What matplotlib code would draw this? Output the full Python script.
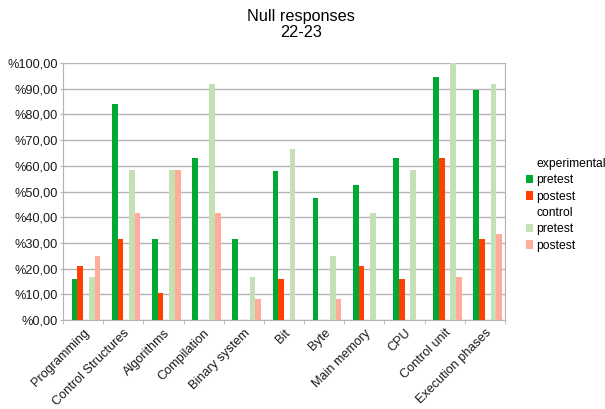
import matplotlib
matplotlib.use('Agg')
import matplotlib.pyplot as plt
import matplotlib.transforms as mtransforms
import numpy as np
from matplotlib.patches import Patch

plt.rcParams['font.family'] = ['Liberation Sans', 'DejaVu Sans']

topics = ['Programming', 'Control Structures', 'Algorithms', 'Compilation',
          'Binary system', 'Bit', 'Byte', 'Main memory', 'CPU',
          'Control unit', 'Execution phases']

# percentage of null responses per topic
exp_pretest = [15.79, 84.21, 31.58, 63.16, 31.58, 57.89, 47.37, 52.63, 63.16, 94.74, 89.47]
exp_postest = [21.05, 31.58, 10.53, 0, 0, 15.79, 0, 21.05, 15.79, 63.16, 31.58]
ctl_pretest = [16.67, 58.33, 58.33, 91.67, 16.67, 66.67, 25.00, 41.67, 58.33, 100.00, 91.67]
ctl_postest = [25.00, 41.67, 58.33, 41.67, 8.33, 0, 8.33, 0, 0, 16.67, 33.33]

c_exp_pre = '#00a933'
c_exp_post = '#ff4000'
c_ctl_pre = '#c5e0b4'
c_ctl_post = '#ffad9a'

fig = plt.figure(figsize=(6.05, 4.09), dpi=100)
ax = fig.add_axes([63/605, 89/409, 442/605, 257/409])

x = np.arange(len(topics))
w = 1.0 / 7
# six slots per group: "experimental" and "control" header series are empty
ax.bar(x - 1.5*w, exp_pretest, w, color=c_exp_pre, zorder=3)
ax.bar(x - 0.5*w, exp_postest, w, color=c_exp_post, zorder=3)
ax.bar(x + 1.5*w, ctl_pretest, w, color=c_ctl_pre, zorder=3)
ax.bar(x + 2.5*w, ctl_postest, w, color=c_ctl_post, zorder=3)

ax.set_xlim(-0.5, len(topics) - 0.5)
ax.set_ylim(0, 100)
yt = np.arange(0, 101, 10)
ax.set_yticks(yt)
ax.set_yticklabels(['%{:d},00'.format(v) for v in yt], fontsize=9.2, color='#1a1a1a')
ax.set_xticks(x)
ax.set_xticklabels(topics, rotation=45, ha='right', va='top',
                   rotation_mode='anchor', fontsize=9.1, color='#1a1a1a')
shift = mtransforms.ScaledTranslation(-5/100, 0, fig.dpi_scale_trans)
for lbl in ax.get_xticklabels():
    lbl.set_transform(lbl.get_transform() + shift)
ax.set_xticks(np.arange(len(topics) + 1) - 0.5, minor=True)
ax.tick_params(axis='x', which='major', length=0, pad=5)
ax.tick_params(axis='x', which='minor', length=3, color='#b3b3b3')
ax.tick_params(axis='y', length=2, color='#b3b3b3', pad=1.5)

ax.grid(axis='y', color='#b3b3b3', linewidth=1, zorder=0)
ax.spines['top'].set_visible(False)
for side in ['left', 'right', 'bottom']:
    ax.spines[side].set_color('#b3b3b3')

fig.text(0.497, 0.977, 'Null responses\n22-23', ha='center', va='top',
         fontsize=11.7, linespacing=1.05)

handles = [Patch(facecolor='none', edgecolor='none'),
           Patch(facecolor=c_exp_pre),
           Patch(facecolor=c_exp_post),
           Patch(facecolor='none', edgecolor='none'),
           Patch(facecolor=c_ctl_pre),
           Patch(facecolor=c_ctl_post)]
labels = ['experimental', 'pretest', 'postest', 'control', 'pretest', 'postest']
fig.legend(handles, labels, loc='upper left', bbox_to_anchor=(520/605, 1 - 152/409),
           frameon=False, fontsize=8.7, handlelength=0.55, handleheight=0.7,
           handletextpad=0.3, labelspacing=0.36, borderpad=0)

fig.savefig('out.png', dpi=100)
